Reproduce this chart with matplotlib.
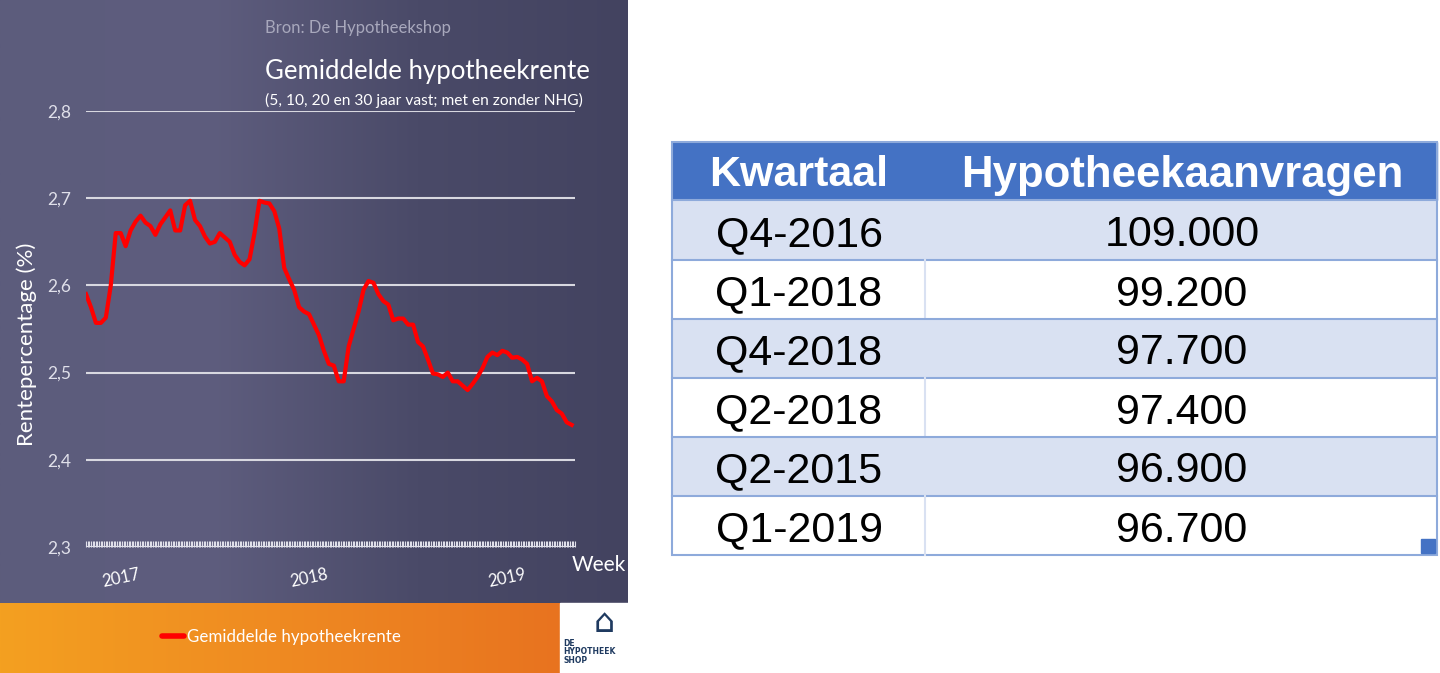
import matplotlib
matplotlib.use('Agg')
import matplotlib.pyplot as plt
import numpy as np
from matplotlib.patches import Rectangle

# weekly average mortgage rate (%)
rate = [2.59, 2.575, 2.557, 2.557, 2.563, 2.60, 2.66, 2.66, 2.645, 2.663,
        2.673, 2.68, 2.672, 2.668, 2.658, 2.67, 2.678, 2.686, 2.663, 2.663,
        2.692, 2.697, 2.675, 2.668, 2.656, 2.648, 2.65, 2.66, 2.655, 2.65,
        2.635, 2.627, 2.623, 2.63, 2.66, 2.697, 2.695, 2.694, 2.685, 2.665,
        2.62, 2.607, 2.595, 2.575, 2.57, 2.567, 2.555, 2.543, 2.525, 2.51,
        2.508, 2.49, 2.49, 2.53, 2.55, 2.57, 2.595, 2.605, 2.603, 2.59,
        2.582, 2.578, 2.56, 2.562, 2.562, 2.555, 2.555, 2.535, 2.53, 2.515,
        2.499, 2.498, 2.495, 2.50, 2.49, 2.49, 2.485, 2.48, 2.487, 2.495,
        2.505, 2.518, 2.523, 2.52, 2.525, 2.523, 2.517, 2.518, 2.515, 2.51,
        2.49, 2.494, 2.49, 2.473, 2.467, 2.457, 2.453, 2.443, 2.44]
year_weeks = [7, 45, 85]
year_labels = ['2017', '2018', '2019']
y_ticks = [2.3, 2.4, 2.5, 2.6, 2.7, 2.8]

kwartaal = ['Q4-2016', 'Q1-2018', 'Q4-2018', 'Q2-2018', 'Q2-2015', 'Q1-2019']
aanvragen = ['109.000', '99.200', '97.700', '97.400', '96.900', '96.700']

W, H = 1440, 673
fig = plt.figure(figsize=(14.4, 6.73), dpi=100)
fig.patch.set_facecolor('white')

# background panels (pixel coordinates)
bg = fig.add_axes([0, 0, 1, 1])
bg.set_xlim(0, W)
bg.set_ylim(H, 0)
bg.axis('off')
grad = np.linspace(0, 1, 256)[None, :]
purple = plt.matplotlib.colors.LinearSegmentedColormap.from_list(
    'p', ['#5c5c7c', '#5e5d7e', '#4a4a68', '#434360'])
bg.imshow(grad, cmap=purple, extent=[0, 628, 603, 0], aspect='auto')
orange = plt.matplotlib.colors.LinearSegmentedColormap.from_list(
    'o', ['#f4a020', '#ef8a22', '#e8731f'])
bg.imshow(grad, cmap=orange, extent=[0, 560, 673, 603], aspect='auto')
bg.add_patch(Rectangle((560, 603), 68, 70, color='white'))
bg.text(604, 606, '⌂', ha='center', va='top', fontsize=24, color='#1f3a60')
bg.text(563, 652, 'DE\nHYPOTHEEK\nSHOP', ha='left', va='center', fontsize=5.5,
        fontweight='bold', color='#1f3a60', linespacing=0.9)
bg.plot([162, 184], [636, 636], color='#ff0000', lw=4, solid_capstyle='round')
bg.text(187, 637, 'Gemiddelde hypotheekrente', ha='left', va='center',
        fontsize=12.2, color='white', family='Lato')

bg.text(265, 28, 'Bron: De Hypotheekshop', ha='left', va='center',
        fontsize=12, color='#a8a8bc', family='Lato')
bg.text(265, 72, 'Gemiddelde hypotheekrente', ha='left', va='center',
        fontsize=18.5, color='white', family='Lato')
bg.text(265, 100, '(5, 10, 20 en 30 jaar vast; met en zonder NHG)', ha='left',
        va='center', fontsize=11.2, color='white', family='Lato')
bg.text(572, 565, 'Week', ha='left', va='center', fontsize=15,
        color='white', family='Lato')
bg.text(27, 344, 'Rentepercentage (%)', ha='center', va='center', rotation=90,
        fontsize=16, color='white', family='Lato')

# line chart
ax = fig.add_axes([86 / W, 1 - 547 / H, (575 - 86) / W, (547 - 111) / H])
ax.patch.set_alpha(0)
x = np.arange(len(rate))
ax.plot(x, rate, color='#ff0000', lw=3)
ax.set_xlim(0, len(rate) - 1)
ax.set_ylim(2.3, 2.8)
ax.set_yticks(y_ticks)
ax.set_yticklabels([f'{v:.1f}'.replace('.', ',') for v in y_ticks],
                   color='#e0e0ea', fontsize=12.5, family='Lato')
ax.tick_params(axis='y', length=0, pad=11)
ax.grid(axis='y', color='#d8d8e0', lw=1.5)
for s in ax.spines.values():
    s.set_visible(False)
ax.set_xticks(np.arange(0, len(rate), 0.33), minor=True)
ax.set_xticks(year_weeks)
ax.set_xticklabels(year_labels, rotation=12, color='white', fontsize=12,
                   family='Lato')
ax.tick_params(axis='x', which='major', length=0, pad=14)
ax.tick_params(axis='x', which='minor', length=4, width=0.8, color='#e0e0ea',
               direction='in')
ax.axhline(2.3, color='#e0e0ea', lw=1.5)

# table
tab = bg
x0, x1, xs = 672, 1437, 925
rows_y = [142, 200, 260, 319, 378, 437, 496, 555]
tab.add_patch(Rectangle((x0, rows_y[0]), x1 - x0, rows_y[1] - rows_y[0],
                        color='#4472c4'))
tab.text(799, 175, 'Kwartaal', ha='center', va='center',
         fontsize=31, fontweight='bold', color='white', family='Liberation Sans')
tab.text(1182, 175, 'Hypotheekaanvragen', ha='center', va='center',
         fontsize=31.5, fontweight='bold', color='white', family='Liberation Sans')
for i, (k, a) in enumerate(zip(kwartaal, aanvragen)):
    top, bot = rows_y[i + 1], rows_y[i + 2]
    fc = '#d9e1f2' if i % 2 == 0 else 'white'
    tab.add_patch(Rectangle((x0, top), x1 - x0, bot - top, facecolor=fc,
                            edgecolor='none'))
    tab.plot([x0, x1], [top, top], color='#8eaadb', lw=1.5)
    if i % 2 == 1:
        tab.plot([xs, xs], [top, bot], color='#d9e1f2', lw=1.5)
    mid = (top + bot) / 2 + 5
    tab.text(799, mid, k, ha='center', va='center', fontsize=31,
             color='black', family='Liberation Sans')
    tab.text(1182, mid, a, ha='center', va='center', fontsize=31,
             color='black', family='Liberation Sans')
tab.add_patch(Rectangle((x0, rows_y[0]), x1 - x0, rows_y[-1] - rows_y[0],
                        fill=False, edgecolor='#8eaadb', lw=1.5))
tab.add_patch(Rectangle((1421, 539), 14, 14, color='#4472c4'))

fig.savefig('out.png', dpi=100, facecolor='white')
